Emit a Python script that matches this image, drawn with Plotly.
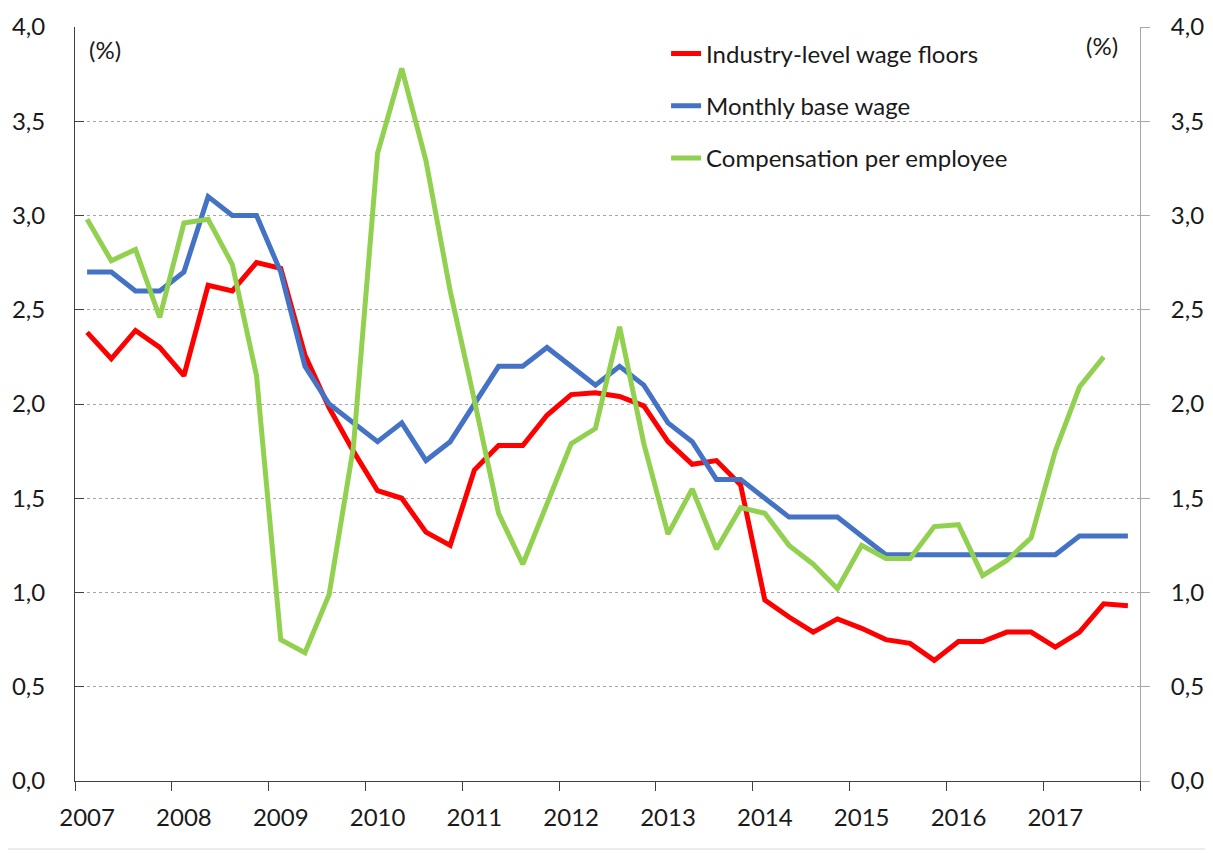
import plotly.graph_objects as go

# ---------------- data ----------------
years = [str(y) for y in range(2007, 2018)]
quarters = [f"{y} Q{q}" for y in range(2007, 2018) for q in range(1, 5)]

wage_floors = [2.38, 2.24, 2.39, 2.30, 2.15, 2.63, 2.60, 2.75,
               2.72, 2.26, 1.98, 1.75, 1.54, 1.50, 1.32, 1.25,
               1.65, 1.78, 1.78, 1.94, 2.05, 2.06, 2.04, 1.99,
               1.80, 1.68, 1.70, 1.57, 0.96, 0.87, 0.79, 0.86,
               0.81, 0.75, 0.73, 0.64, 0.74, 0.74, 0.79, 0.79,
               0.71, 0.79, 0.94, 0.93]

base_wage = [2.70, 2.70, 2.60, 2.60, 2.70, 3.10, 3.00, 3.00,
             2.70, 2.20, 2.00, 1.90, 1.80, 1.90, 1.70, 1.80,
             2.00, 2.20, 2.20, 2.30, 2.20, 2.10, 2.20, 2.10,
             1.90, 1.80, 1.60, 1.60, 1.50, 1.40, 1.40, 1.40,
             1.30, 1.20, 1.20, 1.20, 1.20, 1.20, 1.20, 1.20,
             1.20, 1.30, 1.30, 1.30]

compensation = [2.98, 2.76, 2.82, 2.46, 2.96, 2.98, 2.74, 2.15,
                0.75, 0.68, 0.99, 1.77, 3.33, 3.78, 3.29, 2.60,
                2.02, 1.42, 1.15, 1.47, 1.79, 1.87, 2.41, 1.79,
                1.31, 1.55, 1.23, 1.45, 1.42, 1.25, 1.15, 1.02,
                1.25, 1.18, 1.18, 1.35, 1.36, 1.09, 1.17, 1.29,
                1.75, 2.09, 2.25, None]

y_ticks = [0.0, 0.5, 1.0, 1.5, 2.0, 2.5, 3.0, 3.5, 4.0]
y_tick_text = ["0,0", "0,5", "1,0", "1,5", "2,0", "2,5", "3,0", "3,5", "4,0"]

series_names = ["Industry-level wage floors", "Monthly base wage", "Compensation per employee"]
series_colors = ["#FF0000", "#4472C4", "#92D050"]

# ---------------- figure ----------------
FONT = "Lato"
TXT = "#1a1a1a"
xs = list(range(len(quarters)))
year_pos = [xs[quarters.index(f"{y} Q1")] for y in years]
boundaries = [p - 0.5 for p in year_pos] + [len(quarters) - 0.5]

fig = go.Figure()
for i, (name, vals, col) in enumerate(zip(series_names, [wage_floors, base_wage, compensation], series_colors)):
    fig.add_trace(go.Scatter(
        x=xs, y=vals, name=name, mode="lines",
        line=dict(color=col, width=5),
        legendgroup=f"g{i}",
        yaxis="y2" if i == 2 else "y",
        text=quarters, hovertemplate="%{text}: %{y:.2f}<extra>" + name + "</extra>",
    ))

fig.update_layout(
    width=1213, height=853,
    margin=dict(l=67, r=81, t=19, b=80, autoexpand=False),
    paper_bgcolor="white", plot_bgcolor="white",
    font=dict(family=FONT, size=24, color=TXT),
    showlegend=True,
    legend=dict(x=0.555, y=0.994, xanchor="left", yanchor="top",
                bgcolor="rgba(0,0,0,0)", tracegroupgap=18,
                traceorder="grouped", font=dict(size=24, family=FONT, color=TXT)),
    xaxis=dict(range=[-0.5, len(quarters) - 0.5], tickmode="array",
               tickvals=year_pos, ticktext=years, ticks="",
               showgrid=False, zeroline=False, showline=True,
               linecolor="#404040", linewidth=1, automargin=False,
               ticklabelstandoff=15,
               minor=dict(tickmode="array", tickvals=boundaries, ticks="outside",
                          ticklen=9, tickcolor="#404040", tickwidth=1, showgrid=False)),
    yaxis=dict(range=[0, 4], tickmode="array", tickvals=y_ticks, ticktext=y_tick_text,
               ticks="inside", ticklen=9, tickcolor="#404040",
               showline=True, linecolor="#404040", linewidth=1, automargin=False,
               showgrid=True, gridcolor="#a6a6a6", griddash="3px,3px", gridwidth=1,
               zeroline=False, ticklabelstandoff=24),
    yaxis2=dict(range=[0, 4], tickmode="array", tickvals=y_ticks, ticktext=y_tick_text,
                overlaying="y", side="right", automargin=False,
                ticks="outside", ticklen=9, tickcolor="#a6a6a6",
                showline=True, linecolor="#a6a6a6", linewidth=1,
                showgrid=False, zeroline=False, ticklabelstandoff=16),
    annotations=[
        dict(text="(%)", x=0.0282, y=0.9695, xref="paper", yref="paper",
             xanchor="center", yanchor="middle",
             showarrow=False, font=dict(size=24, family=FONT, color=TXT)),
        dict(text="(%)", x=0.9643, y=0.9761, xref="paper", yref="paper",
             xanchor="center", yanchor="middle",
             showarrow=False, font=dict(size=24, family=FONT, color=TXT)),
    ],
    shapes=[dict(type="rect", xref="paper", yref="paper",
                 x0=-0.0685, x1=1.0657, y0=-0.0902, y1=1.0318,
                 line=dict(color="#d9d9d9", width=1), layer="below")],
)

fig.write_html("out.html")
